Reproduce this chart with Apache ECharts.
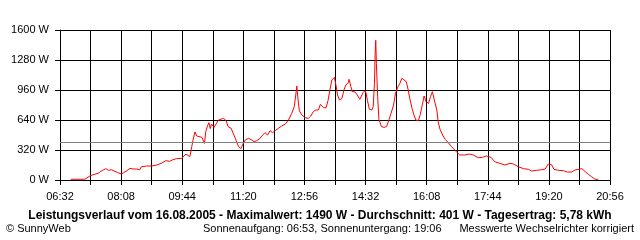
<!DOCTYPE html>
<html>
<head>
<meta charset="utf-8">
<script src="https://cdn.jsdelivr.net/npm/echarts@6/dist/echarts.min.js"></script>
<style>html,body{margin:0;padding:0;background:#fff}#c{width:640px;height:240px}</style>
</head>
<body>
<div id="c"></div>
<script>
const times = ["06:49","07:11","07:14","07:19","07:24","07:32","07:36","07:40","07:44","07:48","07:53","07:57","08:02","08:08","08:12","08:17","08:22","08:28","08:33","08:37","08:40","08:48","08:56","09:04","09:12","09:18","09:24","09:28","09:35","09:43","09:46","09:50","09:53","09:56","09:59","10:01","10:04","10:07","10:10","10:15","10:19","10:21","10:24","10:26","10:28","10:30","10:34","10:37","10:41","10:44","10:49","10:53","10:56","11:01","11:04","11:09","11:12","11:16","11:20","11:23","11:28","11:33","11:37","11:41","11:45","11:49","11:54","11:58","12:02","12:06","12:10","12:15","12:20","12:26","12:31","12:36","12:40","12:43","12:44","12:46","12:48","12:52","12:57","13:02","13:06","13:10","13:14","13:18","13:21","13:26","13:30","13:33","13:36","13:39","13:43","13:46","13:48","13:51","13:55","13:58","14:01","14:05","14:06","14:09","14:11","14:15","14:19","14:23","14:26","14:28","14:31","14:33","14:35","14:38","14:42","14:44","14:46","14:47","14:48","14:49","14:51","14:53","14:57","15:01","15:05","15:09","15:12","15:16","15:19","15:23","15:26","15:29","15:32","15:36","15:39","15:42","15:45","15:48","15:51","15:55","15:58","16:00","16:04","16:07","16:11","16:14","16:17","16:20","16:24","16:26","16:29","16:33","16:37","16:42","16:47","16:52","16:56","17:00","17:08","17:15","17:21","17:29","17:36","17:42","17:49","17:55","18:03","18:11","18:19","18:24","18:32","18:40","18:48","18:53","19:01","19:09","19:14","19:17","19:19","19:24","19:28","19:35","19:43","19:49","19:56","20:01","20:04","20:07","20:12","20:17","20:22","20:27","20:32","20:38"];
const watts = [8,8,28,43,57,71,92,107,121,103,110,96,82,64,78,99,124,117,117,107,142,149,149,160,181,206,199,213,228,231,249,277,263,249,356,427,512,469,476,455,391,516,583,612,548,597,562,583,640,661,658,633,569,551,498,419,363,334,391,427,445,427,409,419,437,469,505,480,526,505,526,551,576,597,640,711,782,942,1003,853,739,693,665,658,683,729,747,747,807,771,771,846,960,1067,1095,996,907,853,871,960,1013,1038,1074,996,942,942,907,860,871,931,953,925,846,754,747,782,1031,1333,1490,1245,889,647,569,562,569,647,711,800,925,996,1031,1085,1095,1049,960,853,765,693,640,633,700,765,896,836,818,889,942,853,747,622,540,480,434,398,356,320,292,267,267,277,267,238,242,256,242,195,178,160,178,171,142,121,114,96,103,110,117,149,171,164,114,103,99,85,85,107,128,114,121,89,60,35,11,0];
const average = 401;
const xStart = "06:32";
const xEnd = "20:56";
const xStep = 48;
const yTicks = [0, 320, 640, 960, 1280, 1600];
const titleText = "Leistungsverlauf vom 16.08.2005 - Maximalwert: 1490 W - Durchschnitt: 401 W - Tagesertrag: 5,78 kWh";
const footLeft = "© SunnyWeb";
const footMid = "Sonnenaufgang: 06:53, Sonnenuntergang: 19:06";
const footRight = "Messwerte Wechselrichter korrigiert";

function toMin(s){const p=s.split(':');return (+p[0])*60+(+p[1]);}
function fmt(m){const h=Math.floor(m/60),mm=m%60;return String(h).padStart(2,'0')+':'+String(mm).padStart(2,'0');}
const base = toMin(xStart);
const span = toMin(xEnd) - base;
const data = times.map((t,i)=>[toMin(t)-base, watts[i]]);

const FONT = '"Liberation Sans", Arial, sans-serif';
const chart = echarts.init(document.getElementById('c'), null, {renderer:'canvas'});
chart.setOption({
  animation:false,
  backgroundColor:'#fff',
  grid:{left:60,right:30,top:30,bottom:60,containLabel:false},
  xAxis:{type:'value',min:0,max:span,interval:xStep,
    axisLine:{lineStyle:{color:'#000',width:1}},
    axisTick:{show:true,length:5,lineStyle:{color:'#000',width:1}},
    splitLine:{show:true,lineStyle:{color:'#000',width:1}},
    axisLabel:{color:'#000',fontFamily:FONT,fontSize:11,margin:11,showMaxLabel:true,showMinLabel:true,
      formatter:v=>{const k=Math.round(v/xStep);return k%2===0?fmt(base+v):'';}}},
  yAxis:{type:'value',min:yTicks[0],max:yTicks[yTicks.length-1],interval:yTicks[1]-yTicks[0],
    axisLine:{show:true,lineStyle:{color:'#000',width:1}},
    axisTick:{show:true,length:5,lineStyle:{color:'#000',width:1}},
    splitLine:{show:true,lineStyle:{color:'#000',width:1}},
    axisLabel:{color:'#000',fontFamily:FONT,fontSize:11,margin:11,formatter:v=>String(v)+' W'}},
  series:[{type:'line',data:data,showSymbol:false,symbol:'none',
    lineStyle:{color:'#ff0000',width:1},
    markLine:{silent:true,symbol:'none',label:{show:false},
      lineStyle:{color:'#808080',width:1,type:'solid'},data:[{yAxis:average}]}}],
  graphic:[
    {type:'text',x:320,y:216,style:{text:titleText,fill:'#000',font:'bold 12px '+FONT,textAlign:'center',textVerticalAlign:'middle'}},
    {type:'text',x:6,y:229,style:{text:footLeft,fill:'#000',font:'11px '+FONT,textAlign:'left',textVerticalAlign:'middle'}},
    {type:'text',x:203,y:229,style:{text:footMid,fill:'#000',font:'11px '+FONT,textAlign:'left',textVerticalAlign:'middle'}},
    {type:'text',x:634,y:229,style:{text:footRight,fill:'#000',font:'11px '+FONT,textAlign:'right',textVerticalAlign:'middle'}}
  ]
});
</script>
</body>
</html>
